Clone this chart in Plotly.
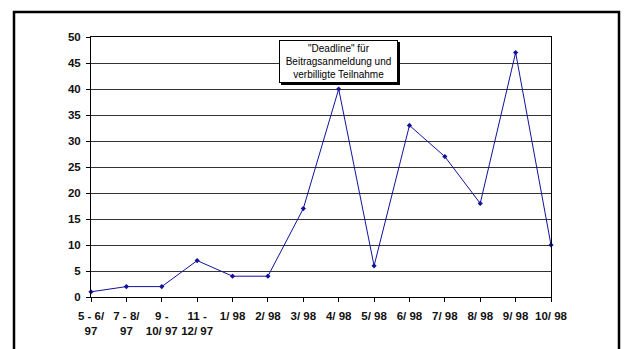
import plotly.graph_objects as go

categories = ["5 - 6/<br>97", "7 - 8/<br>97", "9 -<br>10/ 97", "11 -<br>12/ 97",
              "1/ 98", "2/ 98", "3/ 98", "4/ 98", "5/ 98", "6/ 98",
              "7/ 98", "8/ 98", "9/ 98", "10/ 98"]
values = [1, 2, 2, 7, 4, 4, 17, 40, 6, 33, 27, 18, 47, 10]
y_ticks = [0, 5, 10, 15, 20, 25, 30, 35, 40, 45, 50]
note_text = '"Deadline" für<br>Beitragsanmeldung und<br>verbilligte Teilnahme'

W, H = 624, 349
L, R, T, B = 91, 551, 37, 297  # plot area in px


def px_x(px):
    return (px - L) / (R - L)


def px_y(py):
    return (B - py) / (B - T)


FONT = "Arial, Liberation Sans, sans-serif"
LINE_COLOR = "#12129c"

fig = go.Figure()
fig.add_trace(go.Scatter(
    x=list(range(len(values))), y=values, mode="lines+markers",
    line=dict(color=LINE_COLOR, width=1),
    marker=dict(symbol="diamond", size=4, color=LINE_COLOR),
    showlegend=False, cliponaxis=False,
))

fig.update_layout(
    width=W, height=H,
    margin=dict(l=L, r=W - R, t=T, b=H - B, pad=0),
    paper_bgcolor="white", plot_bgcolor="white",
    font=dict(family=FONT, size=11, color="black"),
    xaxis=dict(
        range=[0, len(values) - 1],
        tickmode="array", tickvals=list(range(len(categories))), ticktext=categories,
        showgrid=False, zeroline=False,
        showline=True, linecolor="black", linewidth=1, mirror=True,
        ticks="outside", ticklen=4, tickcolor="black", tickwidth=1,
        tickfont=dict(family=FONT, size=11.5, color="#111", weight="bold"),
        ticklabelstandoff=4,
    ),
    yaxis=dict(
        range=[0, 50], tickmode="array", tickvals=y_ticks,
        showgrid=True, gridcolor="#333333", gridwidth=1, zeroline=False,
        showline=True, linecolor="black", linewidth=1, mirror=True,
        ticks="outside", ticklen=4, tickcolor="black", tickwidth=1,
        tickfont=dict(family=FONT, size=11.5, color="#111", weight="bold"),
        ticklabelstandoff=3,
    ),
    shapes=[
        dict(type="rect", xref="paper", yref="paper",
             x0=px_x(14), x1=px_x(619), y0=px_y(370), y1=px_y(12),
             line=dict(color="black", width=2.5), fillcolor="rgba(0,0,0,0)", layer="above"),
        dict(type="rect", xref="paper", yref="paper",
             x0=px_x(281), x1=px_x(400), y0=px_y(85), y1=px_y(42),
             line=dict(width=0), fillcolor="black", layer="above"),
    ],
    annotations=[
        dict(text=note_text, xref="paper", yref="paper",
             x=px_x(338.5), y=px_y(61.5), xanchor="center", yanchor="middle",
             showarrow=False, align="center",
             font=dict(family=FONT, size=10, color="black"),
             bgcolor="white", bordercolor="black", borderwidth=1, borderpad=2,
             width=113, height=37),
    ],
)

fig.write_html("out.html")
